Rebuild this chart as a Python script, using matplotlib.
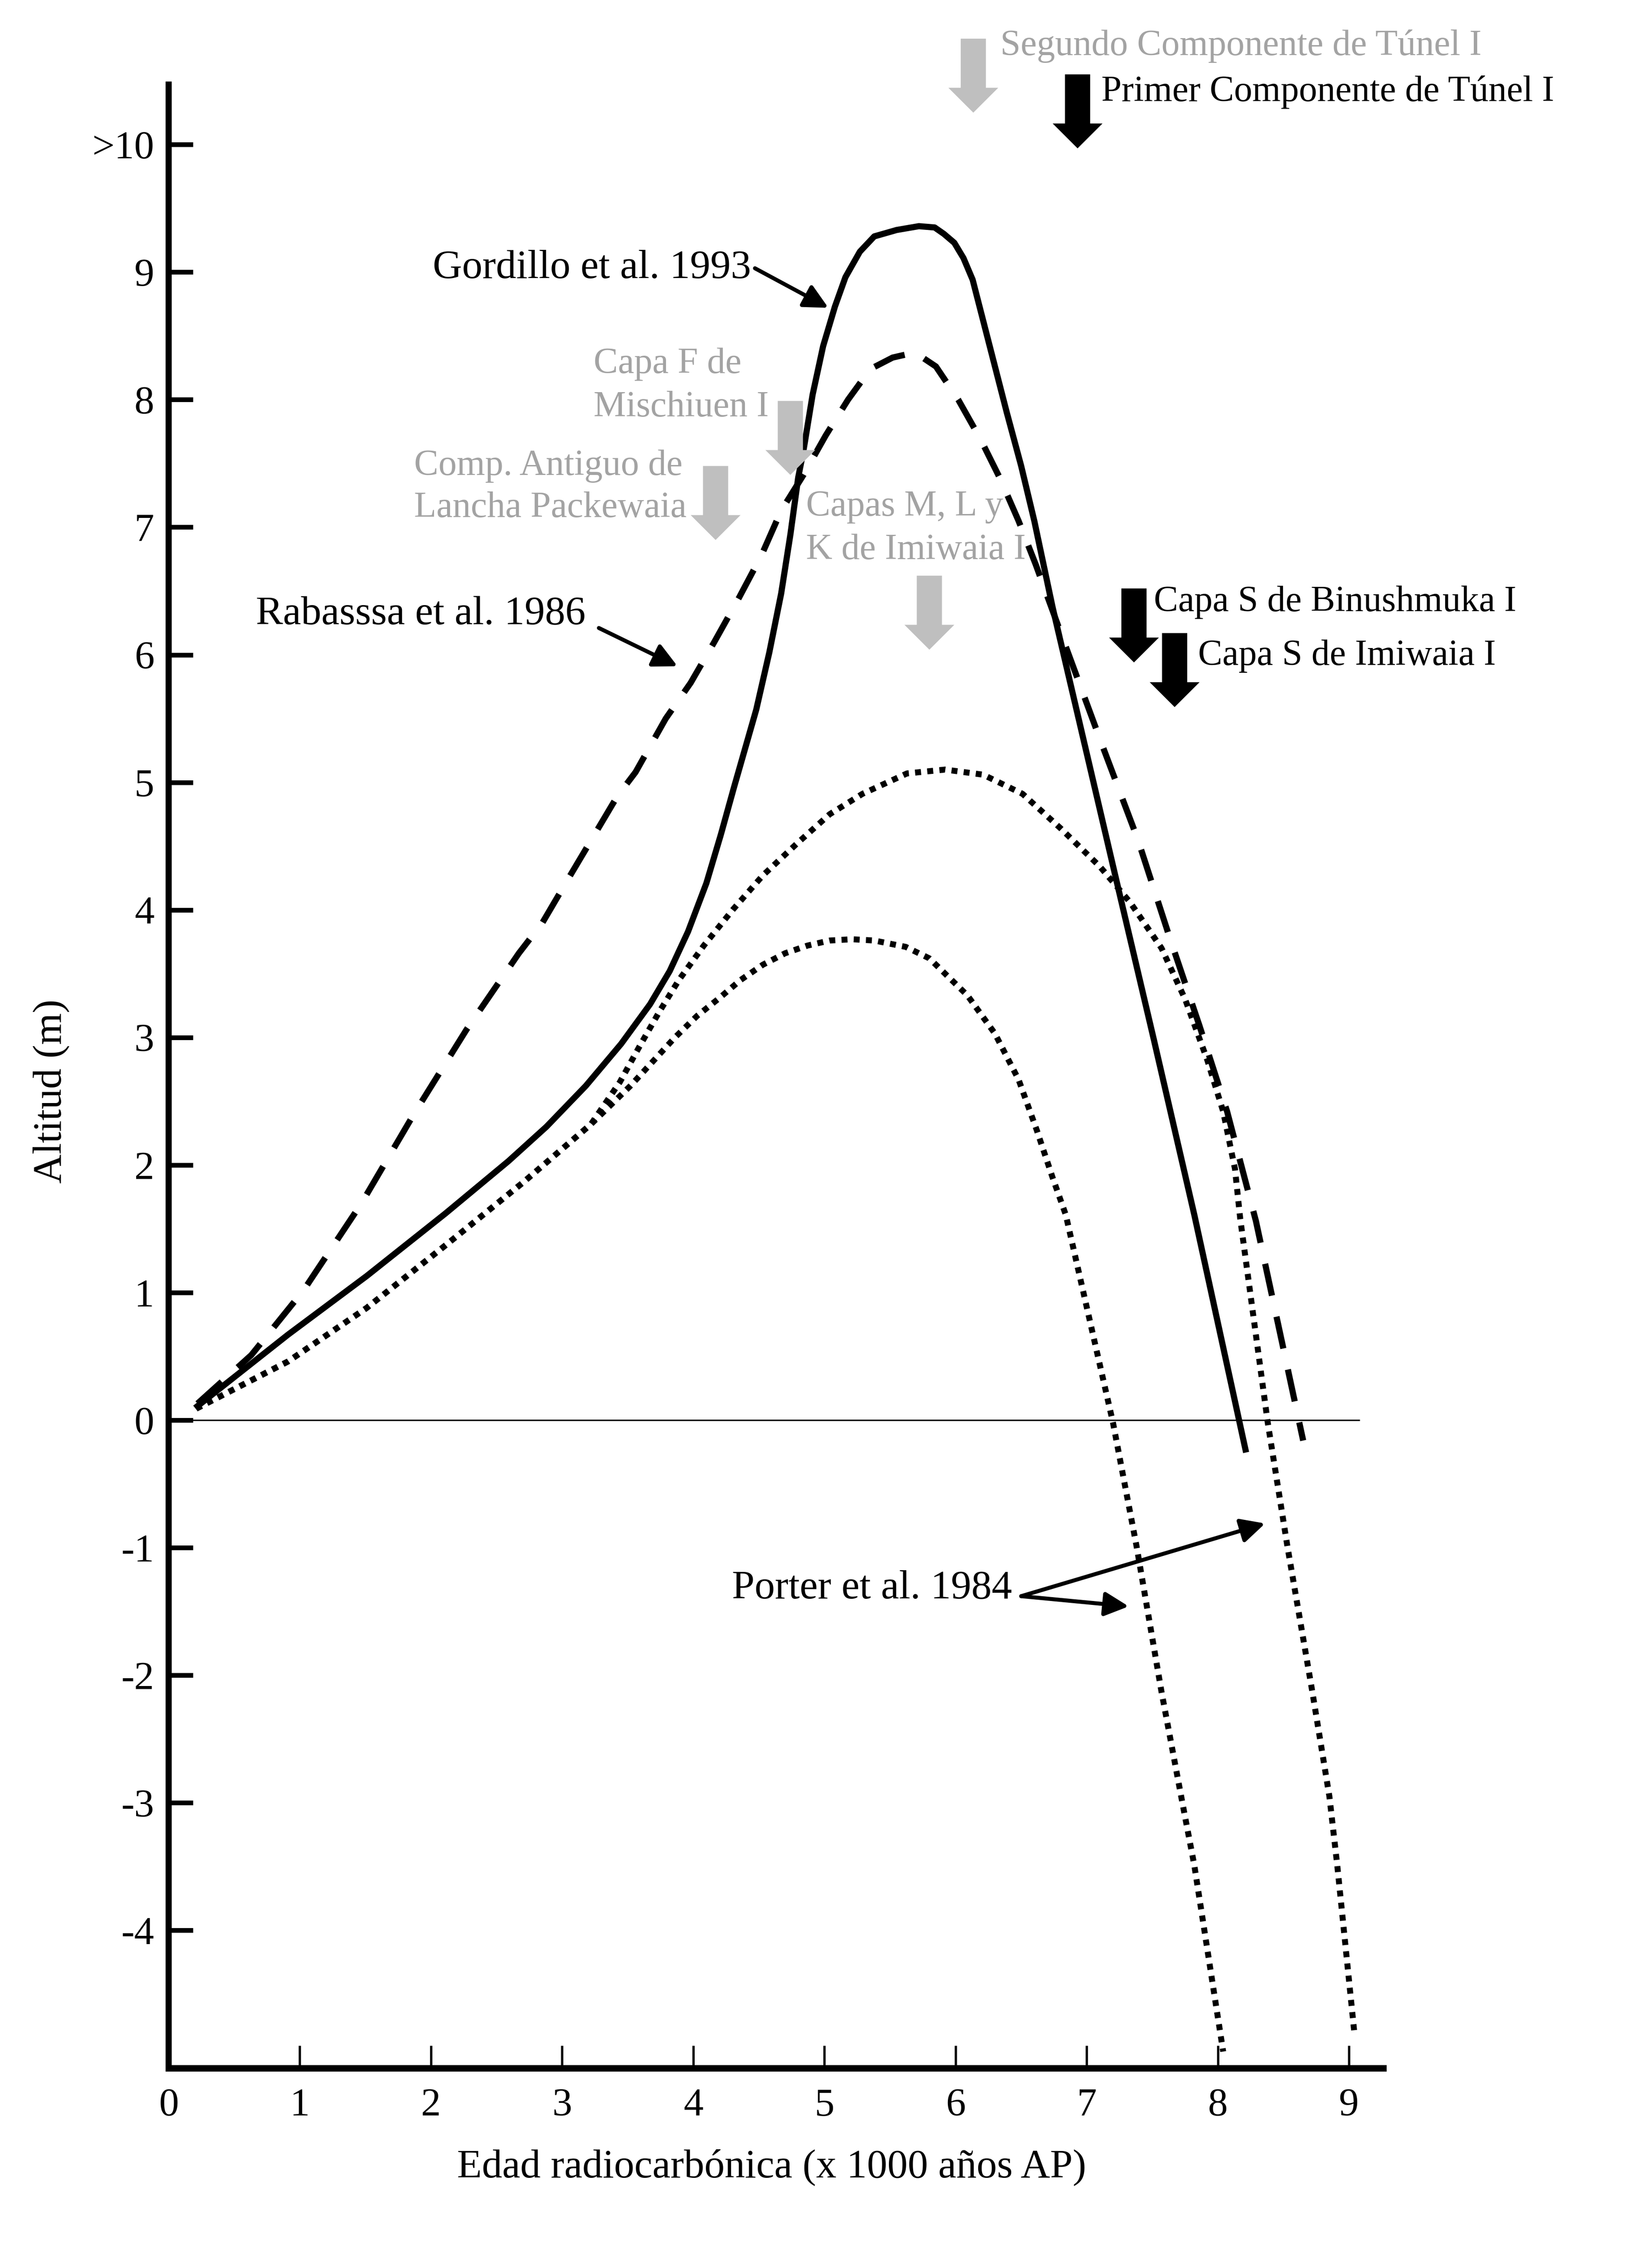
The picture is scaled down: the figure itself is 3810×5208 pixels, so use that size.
import matplotlib
matplotlib.use("Agg")
import matplotlib.pyplot as plt
from matplotlib.patches import Polygon

plt.rcParams['font.family'] = ['Liberation Serif', 'DejaVu Serif']

# curves (x: ka AP, y: m)
gordillo_x = [0.22, 0.91, 1.51, 2.11, 2.59, 2.88, 3.18, 3.45, 3.67, 3.82, 3.96, 4.10, 4.21,
              4.31, 4.48, 4.58, 4.67, 4.74, 4.80, 4.84, 4.91, 4.99, 5.08, 5.16, 5.27, 5.38,
              5.55, 5.72, 5.84, 5.91, 5.99, 6.06, 6.13, 6.19, 6.29, 6.39, 6.50, 6.60, 6.74,
              7.24, 7.51, 7.82, 8.21]
gordillo_y = [0.11, 0.67, 1.13, 1.62, 2.03, 2.30, 2.62, 2.95, 3.26, 3.52, 3.83, 4.21, 4.59,
              4.96, 5.57, 6.02, 6.48, 6.94, 7.39, 7.60, 8.04, 8.42, 8.73, 8.96, 9.16, 9.28,
              9.33, 9.36, 9.35, 9.30, 9.23, 9.11, 8.94, 8.70, 8.30, 7.90, 7.48, 7.05, 6.37,
              4.17, 2.99, 1.61, -0.23]

rabassa_x = [0.22, 0.63, 1.03, 1.47, 1.87, 2.27, 2.67, 2.85, 3.05, 3.42, 3.56, 3.79, 3.98,
             4.16, 4.35, 4.52, 4.67, 4.84, 5.01, 5.18, 5.35, 5.52, 5.69, 5.85, 6.02, 6.19,
             6.34, 6.48, 6.61, 6.82, 7.10, 7.39, 7.63, 7.86, 8.07, 8.29, 8.65]
rabassa_y = [0.13, 0.51, 1.02, 1.70, 2.40, 3.06, 3.66, 3.90, 4.25, 4.89, 5.08, 5.50, 5.78,
             6.10, 6.45, 6.78, 7.13, 7.41, 7.72, 8.00, 8.24, 8.33, 8.37, 8.26, 8.00, 7.69,
             7.38, 7.05, 6.71, 6.12, 5.34, 4.55, 3.79, 3.09, 2.42, 1.56, -0.16]

porter_a_x = [0.21, 0.91, 1.51, 2.11, 2.71, 3.22, 3.44, 3.59, 3.74, 3.89, 4.08, 4.30, 4.53,
              4.79, 5.04, 5.29, 5.46, 5.63, 5.92, 6.21, 6.51, 6.80, 7.10, 7.33, 7.57, 7.75,
              7.92, 8.04, 8.13, 8.17, 8.38, 8.53, 8.72, 8.85, 8.91, 9.04]
porter_a_y = [0.09, 0.46, 0.88, 1.37, 1.87, 2.32, 2.65, 2.93, 3.20, 3.45, 3.72, 4.00, 4.27,
              4.52, 4.75, 4.91, 4.99, 5.07, 5.10, 5.06, 4.91, 4.64, 4.34, 4.06, 3.70, 3.30,
              2.82, 2.42, 1.97, 1.58, -0.02, -0.99, -2.13, -2.95, -3.49, -4.80]

porter_b_x = [0.21, 0.91, 1.51, 2.11, 2.71, 3.22, 3.52, 3.69, 3.86, 4.03, 4.20, 4.36, 4.53,
              4.70, 4.87, 5.04, 5.21, 5.38, 5.62, 5.80, 5.99, 6.09, 6.30, 6.48, 6.62, 6.74,
              6.84, 7.20, 7.38, 7.57, 7.72, 7.82, 8.04]
porter_b_y = [0.09, 0.46, 0.88, 1.37, 1.87, 2.32, 2.62, 2.81, 3.00, 3.17, 3.31, 3.45, 3.57,
              3.66, 3.72, 3.76, 3.77, 3.76, 3.71, 3.62, 3.43, 3.33, 3.03, 2.67, 2.27, 1.90,
              1.61, -0.02, -0.99, -2.13, -2.95, -3.49, -4.95]

x_ticks = [0, 1, 2, 3, 4, 5, 6, 7, 8, 9]
y_ticks = [10, 9, 8, 7, 6, 5, 4, 3, 2, 1, 0, -1, -2, -3, -4]
y_ticklabels = ['>10', '9', '8', '7', '6', '5', '4', '3', '2', '1', '0', '-1', '-2', '-3', '-4']

# block arrows: site, x centre, top y, colour
site_arrows = [
    ('Segundo Componente de Túnel I', 6.135, 10.83, 'gray'),
    ('Primer Componente de Túnel I', 6.93, 10.55, 'black'),
    ('Capa F de Mischiuen I', 4.74, 7.99, 'gray'),
    ('Comp. Antiguo de Lancha Packewaia', 4.17, 7.48, 'gray'),
    ('Capas M, L y K de Imiwaia I', 5.80, 6.62, 'gray'),
    ('Capa S de Binushmuka I', 7.36, 6.52, 'black'),
    ('Capa S de Imiwaia I', 7.67, 6.17, 'black'),
]
# text lines: text, x left, y centre, colour
site_texts = [
    ('Segundo Componente de Túnel I', 6.34, 10.77, 'gray'),
    ('Primer Componente de Túnel I', 7.11, 10.41, 'black'),
    ('Capa F de', 3.24, 8.28, 'gray'),
    ('Mischiuen I', 3.24, 7.94, 'gray'),
    ('Comp. Antiguo de', 1.87, 7.48, 'gray'),
    ('Lancha Packewaia', 1.87, 7.15, 'gray'),
    ('Capas M, L y', 4.86, 7.16, 'gray'),
    ('K de Imiwaia I', 4.86, 6.82, 'gray'),
    ('Capa S de Binushmuka I', 7.51, 6.41, 'black'),
    ('Capa S de Imiwaia I', 7.85, 5.99, 'black'),
]
arrow_fill = {'gray': '#bfbfbf', 'black': 'black'}
text_fill = {'gray': '#a3a3a3', 'black': 'black'}

fig = plt.figure(figsize=(12.7, 17.36), dpi=300)
ax = fig.add_axes([389 / 3810, 1 - 4768 / 5208, 2801 / 3810, 4573 / 5208])
ax.set_xlim(0, 9.26)
ax.set_ylim(-5.08, 10.47)

ax.hlines(0, 0, 9.08, color='black', lw=0.8)

ax.plot(gordillo_x, gordillo_y, color='black', lw=3.4, solid_joinstyle='round')
ax.plot(rabassa_x, rabassa_y, color='black', lw=3.4, dashes=(5.3, 3.5))
ax.plot(porter_a_x, porter_a_y, color='black', lw=3.3, dashes=(1, 1.05))
ax.plot(porter_b_x, porter_b_y, color='black', lw=3.3, dashes=(1, 1.05))

# block arrows
shaft_w, head_w, length, head_l = 0.096, 0.19, 0.58, 0.195
for name, xc, top, col in site_arrows:
    base = top - length + head_l
    tip = top - length
    pts = [(xc - shaft_w, top), (xc + shaft_w, top), (xc + shaft_w, base),
           (xc + head_w, base), (xc, tip), (xc - head_w, base), (xc - shaft_w, base)]
    ax.add_patch(Polygon(pts, closed=True, facecolor=arrow_fill[col],
                         edgecolor='none', clip_on=False, zorder=3))

for txt, x, y, col in site_texts:
    ax.text(x, y, txt, color=text_fill[col], fontsize=20.2, ha='left', va='center',
            clip_on=False)

# labels pointing at curves
aprops = dict(arrowstyle='-|>', color='black', lw=2.2, mutation_scale=28, shrinkA=0, shrinkB=0)
ax.text(4.44, 9.03, 'Gordillo et al. 1993', fontsize=22.5, ha='right', va='center')
ax.annotate('', xy=(5.03, 8.72), xytext=(4.47, 9.03), arrowprops=aprops)
ax.text(3.18, 6.32, 'Rabasssa et al. 1986', fontsize=22.5, ha='right', va='center')
ax.annotate('', xy=(3.88, 5.91), xytext=(3.28, 6.21), arrowprops=aprops)
ax.text(6.43, -1.32, 'Porter et al. 1984', fontsize=22.5, ha='right', va='center')
ax.annotate('', xy=(8.36, -0.81), xytext=(6.50, -1.38), arrowprops=aprops)
ax.annotate('', xy=(7.32, -1.46), xytext=(6.50, -1.38), arrowprops=aprops)

for side in ['top', 'right']:
    ax.spines[side].set_visible(False)
ax.spines['left'].set_linewidth(3.4)
ax.spines['bottom'].set_linewidth(3.6)

ax.set_xticks(x_ticks)
ax.set_xticklabels([str(v) for v in x_ticks])
ax.set_yticks(y_ticks)
ax.set_yticklabels(y_ticklabels)
ax.tick_params(axis='y', direction='in', length=13.5, width=2.6, pad=8, labelsize=22)
ax.tick_params(axis='x', direction='in', length=12.5, width=1.3, pad=11, labelsize=22)

fig.text(1780 / 3810, 1 - 4997 / 5208, 'Edad radiocarbónica (x 1000 años AP)',
         fontsize=22.5, ha='center', va='center')
fig.text(118 / 3810, 1 - 2516 / 5208, 'Altitud (m)', fontsize=22.5, rotation=90,
         ha='center', va='center')

fig.savefig('out.png', dpi=300, facecolor='white')
